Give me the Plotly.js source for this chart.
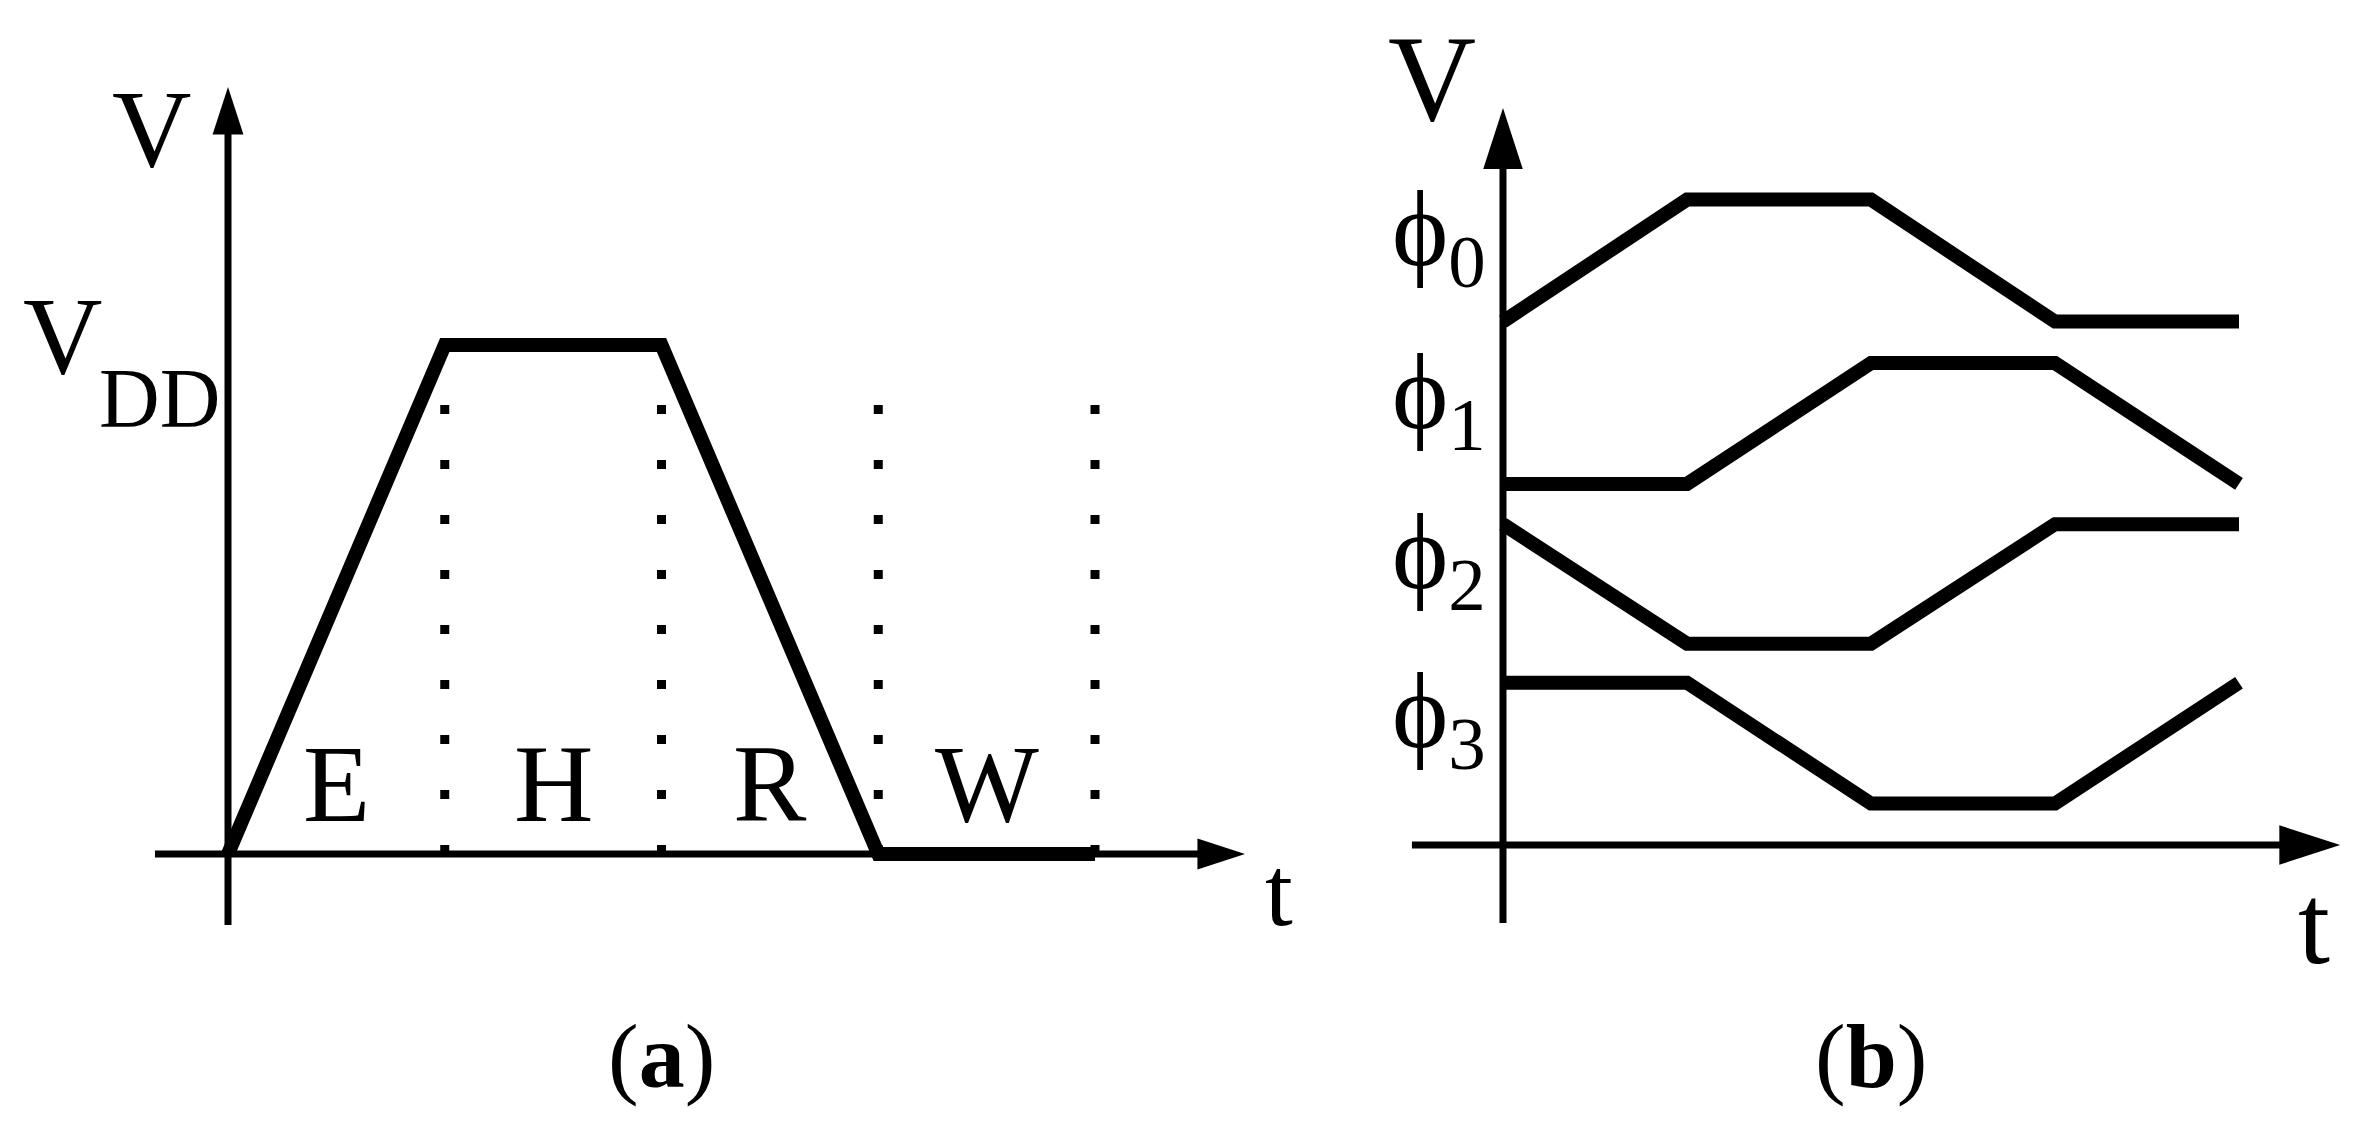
<!DOCTYPE html>
<html><head><meta charset="utf-8">
<script src="https://cdn.plot.ly/plotly-3.0.1.min.js"></script>
<style>html,body{margin:0;padding:0;background:#fff;} #chart{width:2368px;height:1122px;}</style>
</head><body><div id="chart"></div>
<script>
// ---- data ----
const tLeft = [0, 1, 2, 3, 4];
const vLeft = [0, 1, 1, 0, 0];
const phaseNames = ['E', 'H', 'R', 'W'];
const phaseBounds = [1, 2, 3, 4];
const tRight = [0, 1, 2, 3, 4];
const phi0 = [4.29, 5.29, 5.29, 4.29, 4.29];
const phi1 = [2.96, 2.96, 3.95, 3.95, 2.96];
const phi2 = [2.63, 1.65, 1.65, 2.63, 2.63];
const phi3 = [1.33, 1.33, 0.34, 0.34, 1.33];
const phiNames = ['ϕ<sub>0</sub>', 'ϕ<sub>1</sub>', 'ϕ<sub>2</sub>', 'ϕ<sub>3</sub>'];

// ---- styling / layout helpers ----
const SERIF = 'Liberation Serif, Times New Roman, serif';
const BLACK = '#000';
const traces = [];

function axisTraces(xa, ya, x0, x1, y0, y1, w, headSize, backX, backY) {
  const out = [];
  out.push({x: [x0, x1 - backX], y: [0, 0], xaxis: xa, yaxis: ya, mode: 'lines',
    line: {color: BLACK, width: w}, hoverinfo: 'skip', showlegend: false});
  out.push({x: [0, 0], y: [y0, y1 - backY], xaxis: xa, yaxis: ya, mode: 'lines',
    line: {color: BLACK, width: w}, hoverinfo: 'skip', showlegend: false});
  out.push({x: [x1, 0], y: [0, y1], xaxis: xa, yaxis: ya, mode: 'markers',
    marker: {symbol: 'arrow', size: headSize, angle: [90, 0], color: BLACK, line: {width: 0}},
    hoverinfo: 'skip', showlegend: false, cliponaxis: false});
  return out;
}

// left panel
phaseBounds.forEach(b => traces.push({
  x: [b, b], y: [0, 0.895], xaxis: 'x', yaxis: 'y', mode: 'lines',
  line: {color: BLACK, width: 9, dash: '9px,46px'}, hoverinfo: 'skip', showlegend: false
}));
traces.push(...axisTraces('x', 'y', -0.337, 4.692, -0.1395, 1.507, 7, 50, 0.09, 0.04));
traces.push({x: tLeft, y: vLeft, xaxis: 'x', yaxis: 'y', mode: 'lines',
  line: {color: BLACK, width: 14}, hoverinfo: 'skip', showlegend: false});

// right panel
traces.push(...axisTraces('x2', 'y2', -0.495, 4.55, -0.639, 6.04, 7, 64, 0.12, 0.18));
[phi0, phi1, phi2, phi3].forEach(s => traces.push({
  x: tRight, y: s, xaxis: 'x2', yaxis: 'y2', mode: 'lines',
  line: {color: BLACK, width: 14}, hoverinfo: 'skip', showlegend: false
}));

function lab(xr, yr, x, y, text, size, xanchor) {
  return {xref: xr, yref: yr, x: x, y: y, text: text, showarrow: false,
    font: {family: SERIF, size: size, color: BLACK},
    xanchor: xanchor || 'center', yanchor: 'middle'};
}

const ann = [];
// left labels
ann.push(lab('x', 'y', -0.353, 1.425, 'V', 110));
ann.push(lab('x', 'y', -0.764, 1.018, 'V', 110));
ann.push(lab('x', 'y', -0.314, 0.895, 'DD', 84));
phaseNames.forEach((n, i) => ann.push(lab('x', 'y', (tLeft[i] + tLeft[i + 1]) / 2, 0.1385, n, 110)));
ann.push(lab('x', 'y', 4.847, -0.0727, 't', 100));
ann.push(lab('x', 'y', 2, -0.397, '(<b>a</b>)', 92));

// right labels
ann.push(lab('x2', 'y2', -0.386, 6.28, 'V', 122));
[phi0, phi1, phi2, phi3].forEach((s, i) => {
  const mid = (Math.max(...s) + Math.min(...s)) / 2;
  ann.push(lab('x2', 'y2', -0.614, mid + 0.2, phiNames[i], 107, 'left'));
});
ann.push(lab('x2', 'y2', 4.41, -0.652, 't', 115));
ann.push(lab('x2', 'y2', 2, -1.73, '(<b>b</b>)', 92));

const hidden = {showgrid: false, zeroline: false, showline: false, showticklabels: false, ticks: '', fixedrange: true};
const layout = {
  width: 2368, height: 1122, margin: {l: 0, r: 0, t: 0, b: 0},
  paper_bgcolor: '#fff', plot_bgcolor: '#fff', showlegend: false,
  xaxis: Object.assign({domain: [0, 0.57], range: [-1.0519, 5.1753], anchor: 'y'}, hidden),
  yaxis: Object.assign({domain: [0, 1], range: [-0.5265, 1.6778], anchor: 'x'}, hidden),
  xaxis2: Object.assign({domain: [0.58, 1], range: [-0.7041, 4.7011], anchor: 'y2'}, hidden),
  yaxis2: Object.assign({domain: [0, 1], range: [-2.2705, 6.9262], anchor: 'x2'}, hidden),
  annotations: ann
};
Plotly.newPlot('chart', traces, layout, {staticPlot: true, displayModeBar: false});
</script>
</body></html>
